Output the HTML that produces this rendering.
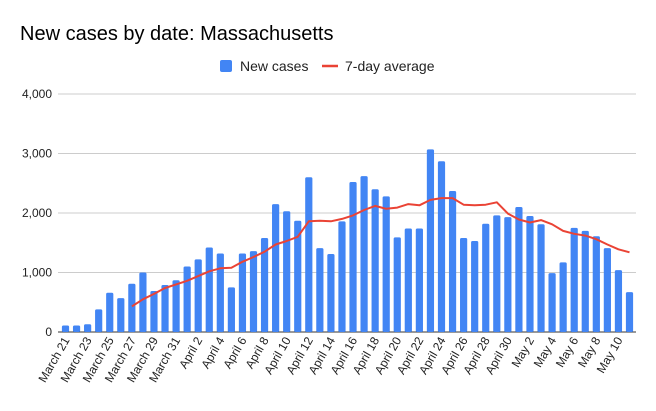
<!DOCTYPE html>
<html><head><meta charset="utf-8"><style>
html,body{margin:0;padding:0;background:#fff;}
body{width:656px;height:406px;overflow:hidden;font-family:"Liberation Sans",sans-serif;}
</style></head><body>
<svg id="chart" width="656" height="406" xmlns="http://www.w3.org/2000/svg">
<text x="20" y="40" font-size="20" fill="#000">New cases by date: Massachusetts</text>
<g>
<rect x="220" y="60" width="12" height="12" rx="2" fill="#4285f4"/>
<text x="240" y="71" font-size="14" fill="#222">New cases</text>
<line x1="322" y1="66" x2="338" y2="66" stroke="#ea4335" stroke-width="2.5"/>
<text x="345" y="71" font-size="14" fill="#222">7-day average</text>
</g>
<g id="grid"></g><g id="bars"></g><g id="line"></g><g id="xl"></g>
</svg>
<script>
const dates = (()=>{const a=[];for(let d=21;d<=31;d++)a.push('March '+d);for(let d=1;d<=30;d++)a.push('April '+d);for(let d=1;d<=11;d++)a.push('May '+d);return a;})();
const newCases = [110,110,130,380,660,570,810,1000,690,790,870,1100,1220,1420,1320,750,1320,1360,1580,2150,2030,1870,2600,1410,1310,1860,2520,2620,2400,2280,1590,1740,1740,3070,2870,2370,1580,1530,1820,1960,1930,2100,1950,1810,990,1170,1750,1700,1610,1410,1040,670];
const avgStart = 6;
const avg7 = [430,550,640,740,800,860,940,1020,1070,1080,1180,1260,1350,1470,1530,1600,1860,1870,1860,1900,1960,2050,2120,2070,2090,2150,2130,2220,2250,2250,2140,2130,2140,2180,1990,1890,1840,1880,1810,1700,1650,1620,1560,1470,1390,1340];
const yTicks = [0,1000,2000,3000,4000];
const NS='http://www.w3.org/2000/svg';
const x0=58,x1=636,yB=332,yT=94,yMax=4000;
const step=(629.5-65.5)/(dates.length-1);
const xs=i=>65.5+i*step;
const ys=v=>yB-(v/yMax)*(yB-yT);
function mk(t,a,p){const e=document.createElementNS(NS,t);for(const k in a)e.setAttribute(k,a[k]);p.appendChild(e);return e;}
const grid=document.getElementById('grid');
yTicks.forEach(v=>{
  const l=mk('line',{x1:x0,x2:x1,y1:ys(v),y2:ys(v),stroke:v===0?'#333':'#ccc','stroke-width':1},grid);
  
  
  const t=mk('text',{x:52,y:ys(v)+4,'text-anchor':'end','font-size':12,fill:'#222'},grid);
  
  
  t.textContent=v.toLocaleString('en-US');
});
const bars=document.getElementById('bars');
newCases.forEach((v,i)=>{
  const h=yB-ys(v);
  const r=mk('rect',{x:xs(i)-3.6,y:ys(v),width:7.2,height:h,rx:1.5,fill:'#4285f4'},bars);
  
  
});
const pts=avg7.map((v,i)=>xs(i+avgStart).toFixed(1)+','+ys(v).toFixed(1)).join(' ');
const pl=mk('polyline',{points:pts,fill:'none',stroke:'#ea4335','stroke-width':2,'stroke-linejoin':'round'},document.getElementById('line'));


const xl=document.getElementById('xl');
dates.forEach((d,i)=>{
  if(i%2)return;
  const t=mk('text',{x:0,y:0,'text-anchor':'end','font-size':12,fill:'#222',transform:`translate(${xs(i)+4.5},${yB+8}) rotate(-60)`},xl);
  
  
  t.textContent=d;
});
</script>
</body></html>
